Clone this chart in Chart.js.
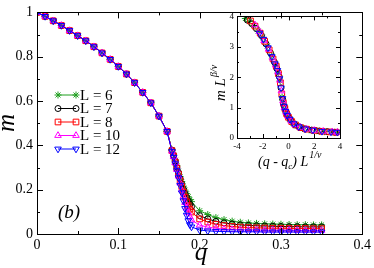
<!DOCTYPE html>
<html>
<head>
<meta charset="utf-8">
<script src="https://cdn.jsdelivr.net/npm/chart.js@4.4.1/dist/chart.umd.min.js"></script>
<style>
  html, body { margin: 0; padding: 0; background: #fff; }
  #wrap { position: relative; width: 374px; height: 268px; }
  #mainChart { position: absolute; left: 0; top: 0; }
  #insetChart { position: absolute; left: 195px; top: 8px; }
</style>
</head>
<body>
<div id="wrap">
  <canvas id="mainChart" width="374" height="268"></canvas>
  <canvas id="insetChart" width="165" height="170"></canvas>
</div>
<script>
// donnees

const seriesLabels = ['L = 6', 'L = 7', 'L = 8', 'L = 10', 'L = 12'];

const qValues = [0, 0.01, 0.02, 0.03, 0.04, 0.05, 0.06, 0.07, 0.08, 0.09, 0.10, 0.11, 0.12, 0.13, 0.14, 0.15, 0.16,
  0.166, 0.168, 0.170, 0.172, 0.174, 0.176, 0.178, 0.180, 0.182, 0.184, 0.186, 0.188, 0.190,
  0.20, 0.21, 0.22, 0.23, 0.24, 0.25, 0.26, 0.27, 0.28, 0.29, 0.30, 0.31, 0.32, 0.33, 0.34, 0.35];

const mL6 = [1, 0.982, 0.962, 0.941, 0.918, 0.895, 0.872, 0.845, 0.817, 0.788, 0.756, 0.722, 0.683, 0.639, 0.592, 0.532, 0.463,
  0.380, 0.358, 0.333, 0.308, 0.283, 0.259, 0.237, 0.216, 0.198, 0.182, 0.168, 0.156, 0.146,
  0.105, 0.088, 0.074, 0.065, 0.058, 0.053, 0.050, 0.048, 0.046, 0.045, 0.044, 0.043, 0.042, 0.042, 0.041, 0.041];
const mL7 = [1, 0.982, 0.962, 0.941, 0.918, 0.895, 0.872, 0.845, 0.817, 0.788, 0.756, 0.722, 0.683, 0.639, 0.592, 0.532, 0.463,
  0.378, 0.355, 0.329, 0.302, 0.276, 0.250, 0.226, 0.203, 0.183, 0.165, 0.149, 0.135, 0.123,
  0.083, 0.068, 0.057, 0.050, 0.045, 0.041, 0.039, 0.037, 0.036, 0.035, 0.034, 0.033, 0.033, 0.032, 0.032, 0.032];
const mL8 = [1, 0.982, 0.962, 0.941, 0.918, 0.895, 0.872, 0.845, 0.817, 0.788, 0.756, 0.722, 0.683, 0.639, 0.592, 0.532, 0.463,
  0.376, 0.352, 0.325, 0.297, 0.269, 0.241, 0.214, 0.189, 0.166, 0.146, 0.128, 0.112, 0.099,
  0.068, 0.054, 0.044, 0.038, 0.034, 0.031, 0.029, 0.028, 0.027, 0.026, 0.026, 0.025, 0.025, 0.025, 0.024, 0.024];
const mL10 = [1, 0.982, 0.962, 0.941, 0.918, 0.895, 0.872, 0.845, 0.817, 0.788, 0.756, 0.722, 0.683, 0.639, 0.592, 0.532, 0.463,
  0.374, 0.349, 0.321, 0.291, 0.261, 0.230, 0.199, 0.170, 0.142, 0.117, 0.096, 0.078, 0.063,
  0.040, 0.031, 0.026, 0.022, 0.020, 0.019, 0.018, 0.018, 0.017, 0.017, 0.017, 0.017, 0.016, 0.016, 0.016, 0.016];
const mL12 = [1, 0.982, 0.962, 0.941, 0.918, 0.895, 0.872, 0.845, 0.817, 0.788, 0.756, 0.722, 0.683, 0.639, 0.592, 0.532, 0.463,
  0.372, 0.346, 0.317, 0.286, 0.254, 0.220, 0.186, 0.150, 0.115, 0.085, 0.060, 0.042, 0.032,
  0.018, 0.014, 0.012, 0.011, 0.010, 0.010, 0.010, 0.010, 0.009, 0.009, 0.009, 0.009, 0.009, 0.009, 0.009, 0.009];

// encart : (q - qc) L^(1/nu) et m L^(beta/nu)
const insetXL6 = [-3.35, -3.05, -2.7, -2.35, -2.0, -1.65, -1.3, -1.0, -0.8, -0.65, -0.5, -0.38, -0.25, -0.1, 0.1, 0.35, 0.7, 1.1, 1.6, 2.2, 2.8, 3.4, 3.8];
const insetYL6 = [3.93, 3.83, 3.7, 3.52, 3.3, 3.02, 2.7, 2.4, 2.15, 1.88, 1.35, 1.1, 0.93, 0.75, 0.63, 0.49, 0.39, 0.32, 0.27, 0.24, 0.21, 0.2, 0.19];
const insetXL7 = [-3.2, -2.85, -2.5, -2.1, -1.75, -1.4, -1.1, -0.9, -0.72, -0.58, -0.45, -0.33, -0.2, -0.05, 0.15, 0.45, 0.8, 1.25, 1.8, 2.4, 3.0, 3.6];
const insetYL7 = [3.88, 3.76, 3.6, 3.37, 3.1, 2.8, 2.5, 2.28, 2.02, 1.65, 1.27, 1.03, 0.86, 0.72, 0.6, 0.46, 0.37, 0.3, 0.26, 0.23, 0.21, 0.19];
const insetXL8 = [-2.95, -2.6, -2.2, -1.85, -1.5, -1.2, -0.95, -0.78, -0.63, -0.52, -0.4, -0.28, -0.15, 0.0, 0.25, 0.55, 0.95, 1.4, 2.0, 2.6, 3.2, 3.7];
const insetYL8 = [3.85, 3.68, 3.45, 3.18, 2.9, 2.6, 2.36, 2.12, 1.82, 1.45, 1.15, 0.97, 0.8, 0.68, 0.54, 0.43, 0.34, 0.29, 0.25, 0.22, 0.2, 0.19];
const insetXL10 = [-2.6, -2.25, -1.9, -1.55, -1.25, -1.0, -0.82, -0.67, -0.55, -0.43, -0.32, -0.2, -0.05, 0.2, 0.5, 0.9, 1.4, 2.0, 2.7, 3.4, 3.8];
const insetYL10 = [3.72, 3.5, 3.2, 2.92, 2.63, 2.4, 2.17, 1.9, 1.55, 1.22, 1.0, 0.85, 0.72, 0.56, 0.44, 0.35, 0.29, 0.25, 0.22, 0.2, 0.19];
const insetXL12 = [-2.25, -1.95, -1.6, -1.3, -1.05, -0.86, -0.7, -0.58, -0.47, -0.36, -0.24, -0.1, 0.1, 0.4, 0.8, 1.3, 1.9, 2.6, 3.3, 3.8];
const insetYL12 = [3.45, 3.25, 2.97, 2.68, 2.44, 2.22, 1.95, 1.65, 1.3, 1.05, 0.88, 0.75, 0.62, 0.47, 0.37, 0.3, 0.26, 0.22, 0.2, 0.19];

// graduations
const xTicks = [0, 0.1, 0.2, 0.3, 0.4];
const xTickLabels = ['0', '0.1', '0.2', '0.3', '0.4'];
const yTicks = [0, 0.2, 0.4, 0.6, 0.8, 1];
const yTickLabels = ['0', '0.2', '0.4', '0.6', '0.8', '1'];
const insetXTicks = [-4, -2, 0, 2, 4];
const insetXTickLabels = ['-4', '-2', '0', '2', '4'];
const insetYTicks = [0, 1, 2, 3, 4];
const insetYTickLabels = ['0', '1', '2', '3', '4'];


// styles des series
const styles = [
  { color: '#1e9e1e', pointStyle: 'star', radius: 3.5, rotation: 0 },
  { color: '#000000', pointStyle: 'circle', radius: 3, rotation: 0 },
  { color: '#ff0000', pointStyle: 'rect', radius: 4, rotation: 0 },
  { color: '#ff00ff', pointStyle: 'triangle', radius: 3.8, rotation: 0 },
  { color: '#0000ff', pointStyle: 'triangle', radius: 3.8, rotation: 180 },
];

const mainSeries = [mL6, mL7, mL8, mL10, mL12];
const insetSeries = [[insetXL6, insetYL6], [insetXL7, insetYL7], [insetXL8, insetYL8], [insetXL10, insetYL10], [insetXL12, insetYL12]];

const serif = '"Liberation Serif", "DejaVu Serif", serif';

// cadre + graduations vers l'interieur
function frameplugin(cfg) {
  return {
    id: 'frame_' + cfg.name,
    afterDraw(chart) {
      const c = chart.ctx;
      const a = chart.chartArea;
      const sx = chart.scales.x, sy = chart.scales.y;
      c.save();
      c.strokeStyle = '#000';
      c.lineWidth = 1;
      c.strokeRect(Math.round(a.left) + 0.5, Math.round(a.top) + 0.5, Math.round(a.right - a.left), Math.round(a.bottom - a.top));
      c.beginPath();
      const tick = (v, len, isX) => {
        if (isX) {
          const x = Math.round(sx.getPixelForValue(v)) + 0.5;
          c.moveTo(x, a.bottom); c.lineTo(x, a.bottom - len);
          c.moveTo(x, a.top); c.lineTo(x, a.top + len);
        } else {
          const y = Math.round(sy.getPixelForValue(v)) + 0.5;
          c.moveTo(a.left, y); c.lineTo(a.left + len, y);
          c.moveTo(a.right, y); c.lineTo(a.right - len, y);
        }
      };
      for (let v = sx.min; v <= sx.max + 1e-9; v += cfg.xMinor) tick(v, cfg.minor, true);
      for (let v = sy.min; v <= sy.max + 1e-9; v += cfg.yMinor) tick(v, cfg.minor, false);
      cfg.xMajor.forEach(v => tick(v, cfg.major, true));
      cfg.yMajor.forEach(v => tick(v, cfg.major, false));
      c.stroke();
      if (cfg.extra) cfg.extra(chart, c);
      c.restore();
    }
  };
}

function drawMarker(c, st, x, y) {
  c.strokeStyle = st.color;
  c.fillStyle = 'rgba(0,0,0,0)';
  c.lineWidth = 1;
  Chart.helpers.drawPoint(c, { pointStyle: st.pointStyle, rotation: st.rotation, radius: st.radius, borderWidth: 1 }, x, y);
}

// legende, titres et (b) du graphique principal
function mainExtras(chart, c) {
  const legendY = [95, 108.5, 122, 135.5, 149];
  seriesLabels.forEach((lab, i) => {
    const st = styles[i];
    c.strokeStyle = st.color;
    c.lineWidth = 1;
    c.beginPath();
    c.moveTo(58, legendY[i]); c.lineTo(76, legendY[i]);
    c.stroke();
    drawMarker(c, st, 58, legendY[i]);
    drawMarker(c, st, 76, legendY[i]);
    c.fillStyle = '#000';
    c.font = '15px ' + serif;
    c.textAlign = 'left';
    c.textBaseline = 'middle';
    c.fillText(lab, 80, legendY[i] + 1);
  });

  c.fillStyle = '#000';
  c.font = 'italic 19px ' + serif;
  c.textAlign = 'left';
  c.textBaseline = 'middle';
  c.fillText('(b)', 58, 213);

  c.font = 'italic 25px ' + serif;
  c.textAlign = 'center';
  c.textBaseline = 'alphabetic';
  c.fillText('q', 201, 260);

  c.save();
  c.translate(14, 123);
  c.rotate(-Math.PI / 2);
  c.fillText('m', 0, 0);
  c.restore();
}

// titres de l'encart (avec exposants)
function insetExtras(chart, c) {
  const ox = 195, oy = 8; // position du canvas
  c.fillStyle = '#000';
  c.textBaseline = 'alphabetic';
  c.textAlign = 'left';

  // axe x : (q - qc) L^{1/nu}
  let x = 258 - ox;
  const base = 166 - oy;
  c.font = 'italic 14px ' + serif;
  c.fillText('(q - q', x, base);
  x += c.measureText('(q - q').width;
  c.font = 'italic 9px ' + serif;
  c.fillText('c', x, base + 3);
  x += c.measureText('c').width;
  c.font = 'italic 14px ' + serif;
  c.fillText(') L', x, base);
  x += c.measureText(') L').width + 1;
  c.font = 'italic 10px ' + serif;
  c.fillText('1/\u03BD', x, base - 8);

  // axe y : m L^{beta/nu}
  c.save();
  c.translate(225 - ox, 101 - oy);
  c.rotate(-Math.PI / 2);
  let t = 0;
  c.font = 'italic 15px ' + serif;
  c.fillText('m L', t, 0);
  t += c.measureText('m L').width + 1;
  c.font = 'italic 10px ' + serif;
  c.fillText('\u03B2/\u03BD', t, -8);
  c.restore();
}


// graphique principal (L = 12 dessine au-dessus)

new Chart(document.getElementById('mainChart'), {
  type: 'scatter',
  data: {
    datasets: mainSeries.map((vals, i) => ({
      label: seriesLabels[i],
      data: qValues.map((q, k) => ({ x: q, y: vals[k] })),
      order: mainSeries.length - 1 - i,
      showLine: true,
      borderColor: styles[i].color,
      borderWidth: 1,
      pointStyle: styles[i].pointStyle,
      rotation: styles[i].rotation,
      pointRadius: styles[i].radius,
      pointBorderColor: styles[i].color,
      pointBackgroundColor: 'rgba(0,0,0,0)',
      pointBorderWidth: 1,
      tension: 0,
    }))
  },
  options: {
    responsive: false,
    animation: false,
    devicePixelRatio: 1,
    layout: { padding: { top: 6, right: 11, left: 0, bottom: 0 } },
    plugins: { legend: { display: false }, tooltip: { enabled: false } },
    scales: {
      x: {
        type: 'linear', min: 0, max: 0.4,
        afterBuildTicks: (s) => { s.ticks = xTicks.map(v => ({ value: v })); },
        afterFit: (s) => { s.height = 34; },
        grid: { display: false, drawTicks: false },
        border: { display: false },
        ticks: { padding: 3, color: '#000', font: { family: serif, size: 14 }, maxRotation: 0,
          callback: (v, i) => xTickLabels[i] }
      },
      y: {
        type: 'linear', min: 0, max: 1,
        afterBuildTicks: (s) => { s.ticks = yTicks.map(v => ({ value: v })); },
        afterFit: (s) => { s.width = 37; },
        grid: { display: false, drawTicks: false },
        border: { display: false },
        ticks: { padding: 4, color: '#000', font: { family: serif, size: 14 },
          callback: (v, i) => yTickLabels[i] }
      }
    }
  },
  plugins: [frameplugin({ name: 'main', xMinor: 0.05, yMinor: 0.1, xMajor: xTicks, yMajor: yTicks, major: 6, minor: 3, extra: mainExtras })]
});


// encart

new Chart(document.getElementById('insetChart'), {
  type: 'scatter',
  data: {
    datasets: insetSeries.map((pair, i) => ({
      label: seriesLabels[i],
      data: pair[0].map((xv, k) => ({ x: xv, y: pair[1][k] })),
      order: insetSeries.length - 1 - i,
      showLine: false,
      pointStyle: styles[i].pointStyle,
      rotation: styles[i].rotation,
      pointRadius: styles[i].radius,
      pointBorderColor: styles[i].color,
      pointBackgroundColor: 'rgba(0,0,0,0)',
      pointBorderWidth: 1,
    }))
  },
  options: {
    responsive: false,
    animation: false,
    devicePixelRatio: 1,
    layout: { padding: { top: 7, right: 20, left: 0, bottom: 0 } },
    plugins: { legend: { display: false }, tooltip: { enabled: false } },
    scales: {
      x: {
        type: 'linear', min: -4, max: 4,
        afterBuildTicks: (s) => { s.ticks = insetXTicks.map(v => ({ value: v })); },
        afterFit: (s) => { s.height = 40; },
        grid: { display: false, drawTicks: false },
        border: { display: false },
        ticks: { padding: 3, color: '#000', font: { family: serif, size: 9 }, maxRotation: 0,
          callback: (v, i) => insetXTickLabels[i] }
      },
      y: {
        type: 'linear', min: 0, max: 4,
        afterBuildTicks: (s) => { s.ticks = insetYTicks.map(v => ({ value: v })); },
        afterFit: (s) => { s.width = 42; },
        grid: { display: false, drawTicks: false },
        border: { display: false },
        ticks: { padding: 3, color: '#000', font: { family: serif, size: 9 },
          callback: (v, i) => insetYTickLabels[i] }
      }
    }
  },
  plugins: [frameplugin({ name: 'inset', xMinor: 1, yMinor: 0.5, xMajor: insetXTicks, yMajor: insetYTicks, major: 4, minor: 2, extra: insetExtras })]
});
</script>
</body>
</html>
